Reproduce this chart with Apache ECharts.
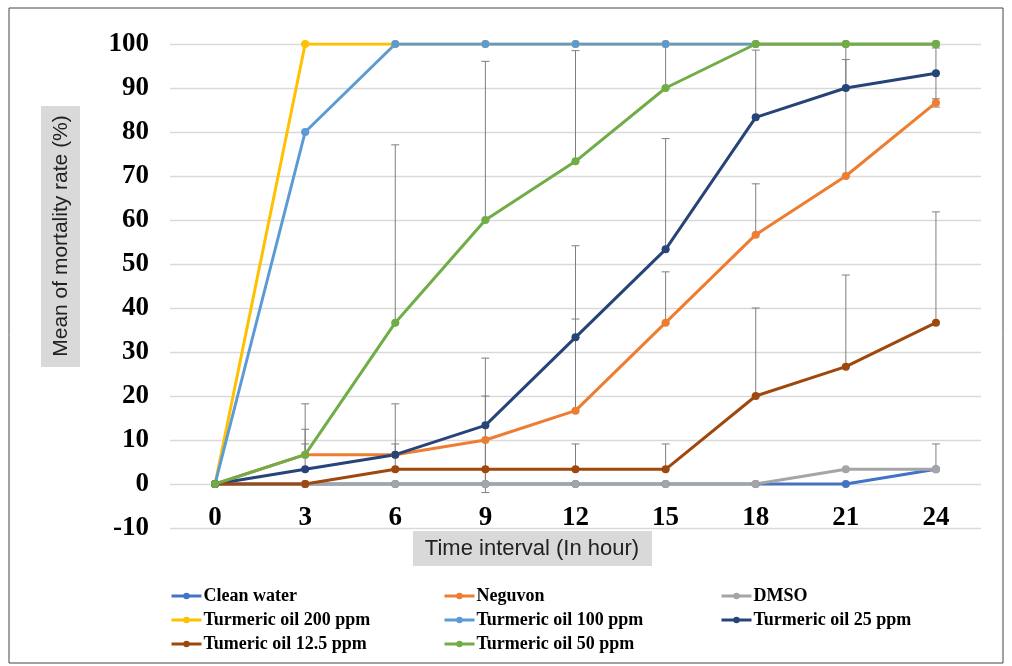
<!DOCTYPE html>
<html>
<head>
<meta charset="utf-8">
<script src="https://cdn.jsdelivr.net/npm/echarts@6/dist/echarts.min.js"></script>
<style>
  html, body { margin: 0; padding: 0; background: #fff; }
  #chart { width: 1012px; height: 666px; }
</style>
</head>
<body>
<div id="chart"></div>
<script>
// time points (hours)
const hours = ['0', '3', '6', '9', '12', '15', '18', '21', '24'];

// mean mortality (%)
const cleanWater = [0, 0, 0, 0, 0, 0, 0, 0, 3.33];
const neguvon = [0, 6.67, 6.67, 10, 16.67, 36.67, 56.67, 70, 86.67];
const dmso = [0, 0, 0, 0, 0, 0, 0, 3.33, 3.33];
const turmeric200 = [0, 100, 100, 100, 100, 100, 100, 100, 100];
const turmeric100 = [0, 80, 100, 100, 100, 100, 100, 100, 100];
const turmeric25 = [0, 3.33, 6.67, 13.33, 33.33, 53.33, 83.33, 90, 93.33];
const turmeric12 = [0, 0, 3.33, 3.33, 3.33, 3.33, 20, 26.67, 36.67];
const turmeric50 = [0, 6.67, 36.67, 60, 73.33, 90, 100, 100, 100];

// error bars
const zeroErr = [0, 0, 0, 0, 0, 0, 0, 0, 0];
const dmsoErrUp = [0, 0, 0, 0, 0, 0, 0, 0, 5.77];
const neguvonErrUp = [0, 5.77, 0, 10, 20.82, 11.55, 11.55, 26.46, 0];
const neguvonErrDown = [0, 0, 0, 10, 0, 0, 0, 0, 1];
const turmeric25ErrUp = [0, 5.77, 11.55, 15.28, 20.82, 25.17, 15.28, 10, 5.77];
const turmeric25ErrDown = [0, 0, 0, 15.28, 0, 0, 0, 0, 5.77];
const turmeric12ErrUp = [0, 0, 5.77, 0, 5.77, 5.77, 20, 20.82, 25.17];
const turmeric50ErrUp = [0, 11.55, 40.41, 36.06, 25.17, 10, 0, 0, 0];

const seriesDefs = [
    { name: 'Clean water', color: '#4472C4', values: cleanWater, up: zeroErr, down: zeroErr },
    { name: 'Neguvon', color: '#ED7D31', values: neguvon, up: neguvonErrUp, down: neguvonErrDown },
    { name: 'DMSO', color: '#A5A5A5', values: dmso, up: dmsoErrUp, down: zeroErr },
    { name: 'Turmeric oil 200 ppm', color: '#FFC000', values: turmeric200, up: zeroErr, down: zeroErr },
    { name: 'Turmeric oil 100 ppm', color: '#5B9BD5', values: turmeric100, up: zeroErr, down: zeroErr },
    { name: 'Turmeric oil 25 ppm', color: '#264478', values: turmeric25, up: turmeric25ErrUp, down: turmeric25ErrDown },
    { name: 'Tumeric oil 12.5 ppm', color: '#9E480E', values: turmeric12, up: turmeric12ErrUp, down: zeroErr },
    { name: 'Turmeric oil 50 ppm', color: '#70AD47', values: turmeric50, up: turmeric50ErrUp, down: zeroErr }
];

// legend grid: 3 columns x 3 rows, same order as the series
const legendCols = [170, 443, 720];
const legendRows = [587, 611, 635];

const serifBold = {
    fontFamily: '"Liberation Serif", "Times New Roman", serif',
    fontWeight: 'bold',
    color: '#000'
};

const errData = [];
seriesDefs.forEach((s) => {
    s.values.forEach((v, i) => {
        errData.push([i, v - s.down[i], v + s.up[i]]);
    });
});

const renderErr = (params, api) => {
    const lo = api.coord([api.value(0), api.value(1)]);
    const hi = api.coord([api.value(0), api.value(2)]);
    const half = 4;
    const style = { stroke: '#7f7f7f', lineWidth: 1 };
    return {
        type: 'group',
        children: [
            { type: 'line', shape: { x1: lo[0], y1: lo[1], x2: hi[0], y2: hi[1] }, style: style },
            { type: 'line', shape: { x1: lo[0] - half, y1: lo[1], x2: lo[0] + half, y2: lo[1] }, style: style },
            { type: 'line', shape: { x1: hi[0] - half, y1: hi[1], x2: hi[0] + half, y2: hi[1] }, style: style }
        ]
    };
};

const legends = seriesDefs.map((s, i) => ({
    data: [s.name],
    left: legendCols[i % 3],
    top: legendRows[Math.floor(i / 3)],
    padding: 0,
    itemWidth: 30,
    itemHeight: 8,
    lineStyle: { width: 3 },
    textStyle: { ...serifBold, fontSize: 18, padding: [0, 0, 0, -3] }
}));

const chart = echarts.init(document.getElementById('chart'));
chart.setOption({
    animation: false,
    grid: { left: 170, right: 31, top: 44, bottom: 138 },
    xAxis: {
        type: 'category',
        data: hours,
        boundaryGap: true,
        offset: -44,
        axisLine: { show: false },
        axisTick: { show: false },
        axisLabel: { ...serifBold, fontSize: 27, margin: 21 }
    },
    yAxis: {
        type: 'value',
        min: -10,
        max: 100,
        interval: 10,
        axisLine: { show: false },
        axisTick: { show: false },
        axisLabel: { ...serifBold, fontSize: 27, margin: 21 },
        splitLine: { lineStyle: { color: '#d9d9d9', width: 1.3 } }
    },
    legend: legends,
    graphic: [
        {
            type: 'rect',
            shape: { x: 9, y: 8, width: 994, height: 655 },
            style: { fill: 'none', stroke: '#444', lineWidth: 1 },
            silent: true
        },
        {
            type: 'rect',
            shape: { x: 41, y: 106, width: 39, height: 261 },
            style: { fill: '#d9d9d9' }
        },
        {
            type: 'text',
            x: 61,
            y: 236,
            rotation: Math.PI / 2,
            style: {
                text: 'Mean of mortality rate (%)',
                fontFamily: '"Liberation Sans", Arial, sans-serif',
                fontSize: 21,
                fill: '#222',
                align: 'center',
                verticalAlign: 'middle'
            }
        },
        {
            type: 'rect',
            shape: { x: 413, y: 531, width: 239, height: 35 },
            style: { fill: '#d9d9d9' }
        },
        {
            type: 'text',
            x: 532,
            y: 549,
            style: {
                text: 'Time interval (In hour)',
                fontFamily: '"Liberation Sans", Arial, sans-serif',
                fontSize: 22,
                fill: '#222',
                align: 'center',
                verticalAlign: 'middle'
            }
        }
    ],
    series: seriesDefs.map((s) => ({
        name: s.name,
        type: 'line',
        data: s.values,
        symbol: 'circle',
        symbolSize: 8,
        color: s.color,
        lineStyle: { width: 3, color: s.color },
        itemStyle: { color: s.color }
    })).concat([{
        type: 'custom',
        name: 'error',
        renderItem: renderErr,
        data: errData,
        z: 3,
        silent: true
    }])
});
</script>
</body>
</html>
